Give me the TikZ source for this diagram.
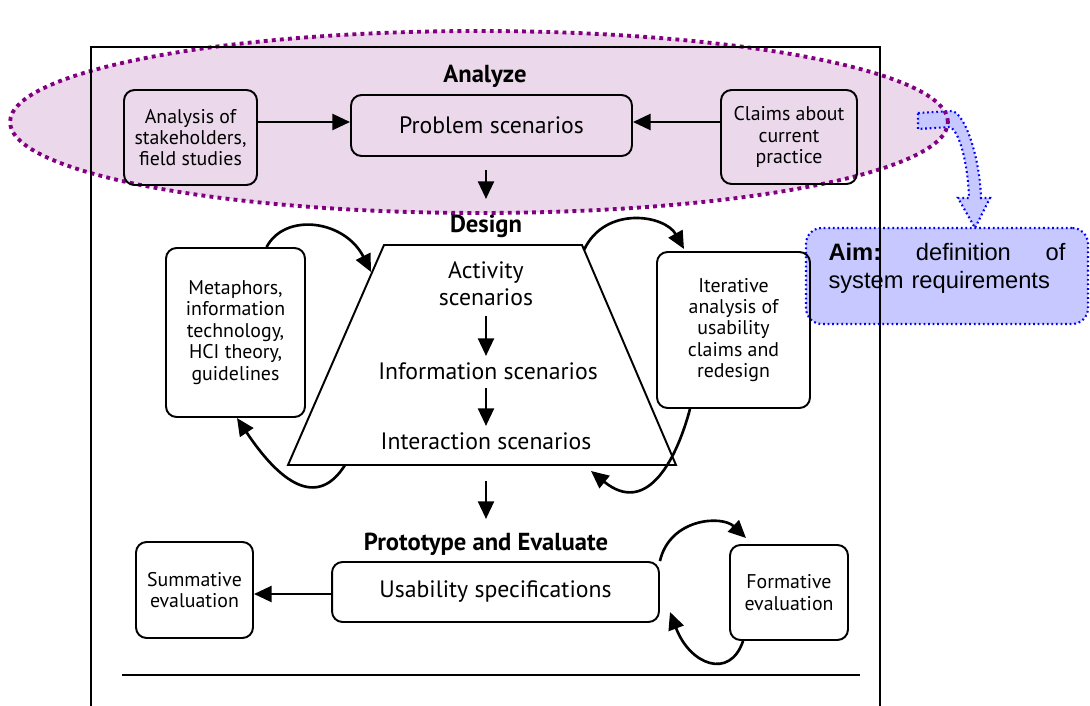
\documentclass[tikz,border=0pt]{standalone}
\usepackage{fontspec}
\setsansfont{PT Sans}
\newfontfamily\arialfont{Liberation Sans}
\usetikzlibrary{arrows.meta,calc,positioning}
\definecolor{aimblue}{RGB}{198,200,255}
\definecolor{anpink}{RGB}{235,217,235}
\definecolor{anpurple}{RGB}{128,0,128}
\tikzset{box/.style={draw,rounded corners=6pt,line width=1.1pt,align=center,font=\sffamily\fontsize{11.3}{12.2}\selectfont,inner sep=0pt},
	arr/.style={line width=1.5pt,-{Triangle[length=10pt,width=9pt]}},
	head/.style={font=\sffamily\bfseries\fontsize{14}{16}\selectfont},
	big/.style={font=\sffamily\fontsize{13.5}{15.5}\selectfont,align=center},
	bluedots/.style={draw=blue,line width=1.2pt,dash pattern=on 1pt off 1.6pt,fill=aimblue}}

\begin{document}
\begin{tikzpicture}[x=0.02cm,y=-0.02cm]
				\useasboundingbox (0,0) rectangle (1090,706);
				% the analyze phase is marked
				\fill[anpink] (479,122) ellipse [x radius=9.38cm, y radius=1.82cm];
				\path[bluedots] (918,113) -- (952,111) .. controls (966,114) and (980,160) .. (981,198) -- (990,198) -- (975,228) -- (958,198) -- (969,198) .. controls (968,165) and (960,132) .. (950,127) -- (918,129) -- cycle;
				\draw[anpurple,line width=2.2pt,dash pattern=on 2.2pt off 2.4pt] (479,122) ellipse [x radius=9.38cm, y radius=1.82cm];
				\node (aim) [bluedots,rounded corners=9pt,minimum width=5.64cm,minimum height=1.92cm,text width=4.74cm,text depth=0.95cm,align=left,font=\arialfont\fontsize{13.5}{15.5}\selectfont] at (947,276) {\textbf{Aim:}\hfill definition\hfill of\\system requirements};
				\draw[line width=0.8pt] (91,706) -- (91,47) -- (880,47) -- (880,706); \draw[line width=0.8pt] (122,675) -- (860,675);
				% Analyze
				\node (an) [head] at (485,76) {Analyze};
				\node (stake) [box,minimum width=2.66cm,minimum height=1.9cm] at (190.5,137.5) {Analysis of\\stakeholders,\\field studies};
				\node (prob) [box,big,minimum width=5.62cm,minimum height=1.22cm] at (491.5,125.5) {Problem scenarios};
				\node (claims) [box,minimum width=2.72cm,minimum height=1.88cm] at (789,137) {Claims about\\current\\practice};
				\draw[arr] (stake.east |- 0,122) -- (prob.west |- 0,122); \draw[arr] (claims.west |- 0,122) -- (prob.east |- 0,122);
				\draw[arr] (486,170) -- (486,199);
				% Design
				\node (de) [head] at (486,226) {Design};
				\coordinate (tzA) at (384,245); \coordinate (tzB) at (582,245); \coordinate (tzC) at (676,465); \coordinate (tzD) at (288,465);
				\draw[line width=1.1pt] (tzA) -- (tzB) -- (tzC) -- (tzD) -- cycle;
				\node (act) [big] at (486,284) {Activity\\scenarios};
				\node (info) [big] at (488,371) {Information scenarios};
				\node (inter) [big] at (486,441) {Interaction scenarios};
				\draw[arr] (486,316) -- (486,356); \draw[arr] (486,388) -- (486,426);
				\node (meta) [box,minimum width=2.78cm,minimum height=3.38cm] at (235.5,332.5) {Metaphors,\\information\\technology,\\HCI theory,\\guidelines};
				\node (iter) [box,minimum width=3.06cm,minimum height=3.12cm] at (733.5,330) {Iterative\\analysis of\\usability\\claims and\\redesign};
				\draw[arr] (meta.70) .. controls (285,212) and (345,220) .. (371,272);
				\draw[arr] (345,465) .. controls (320,505) and (285,490) .. (237,418);
				\draw[arr] (584,250) .. controls (605,205) and (665,215) .. (684,249);
				\draw[arr] (690,409) .. controls (675,465) and (645,515) .. (591,471);
				\draw[arr] (486,481) -- (486,519);
				% Prototype and Evaluate
				\node (pe) [head] at (486,544) {Prototype and Evaluate};
				\node (usab) [box,big,minimum width=6.54cm,minimum height=1.2cm] at (495.5,592) {Usability specifications};
				\node (summ) [box,minimum width=2.34cm,minimum height=1.92cm] at (194.5,590) {Summative\\evaluation};
				\node (form) [box,minimum width=2.36cm,minimum height=1.9cm] at (789,592.5) {Formative\\evaluation};
				\draw[arr] (usab.west |- 0,594) -- (summ.east |- 0,594);
				\draw[arr] (usab.north east) .. controls (670,518) and (722,515) .. (746,538);
				\draw[arr] (form.south west) ++(14,0) .. controls (730,680) and (690,665) .. (670,612);
			\end{tikzpicture}
\end{document}
